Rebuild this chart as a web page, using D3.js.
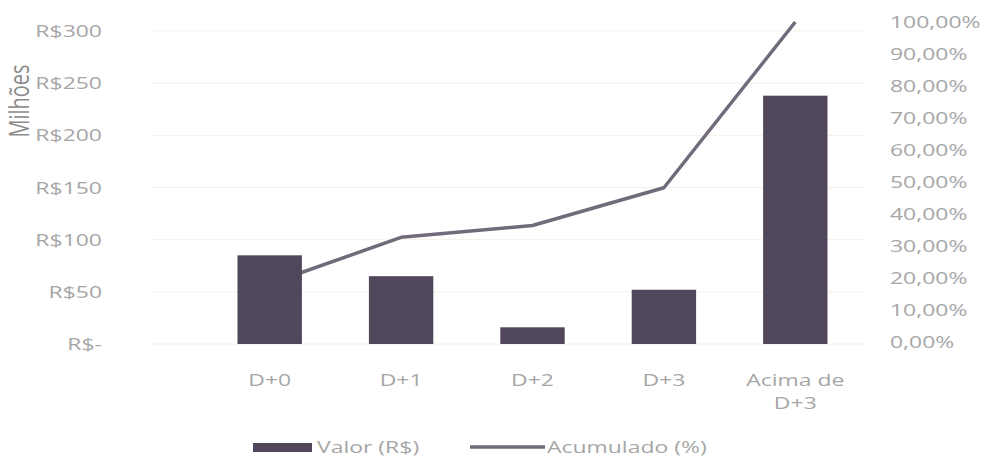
<!DOCTYPE html>
<html>
<head>
  <meta charset="UTF-8">
  <title>Valor por prazo</title>
  <script src="https://cdnjs.cloudflare.com/ajax/libs/d3/7.8.5/d3.min.js"></script>
  <style>
    body { margin: 0; background: #fff; }
    text { font-family: "Open Sans", sans-serif; font-size: 17px; fill: #a6a6a6; }
  </style>
</head>
<body>
<script>
    // Data
    const categories = ["D+0", "D+1", "D+2", "D+3", "Acima de D+3"];
    const valores = [85, 65, 16, 52, 238];            // R$ milhões
    const acumulado = [18.2, 32.7, 36.4, 48.2, 100];  // %
    const leftTicks = [0, 50, 100, 150, 200, 250, 300];
    const rightTicks = [0, 10, 20, 30, 40, 50, 60, 70, 80, 90, 100];

    const W = 981, H = 464;
    const SX = 1.35; // the scanned text is stretched sideways

    const svg = d3.select("body").append("svg")
      .attr("width", W)
      .attr("height", H);

    // put a text at (x,y), stretched horizontally
    function label(g, x, y, str, anchor) {
      return g.append("text")
        .attr("transform", `translate(${x},${y}) scale(${SX},1)`)
        .attr("text-anchor", anchor || "start")
        .text(str);
    }

    // Scales
    const x = d3.scaleBand()
      .domain(categories)
      .range([204, 861])
      .paddingInner(0.51)
      .paddingOuter(0.255);

    const yL = d3.scaleLinear().domain([0, 300]).range([344, 31]);
    const yR = d3.scaleLinear().domain([0, 100]).range([342, 22]);

    // faint gridlines
    svg.append("g")
      .selectAll("line")
      .data(leftTicks)
      .join("line")
      .attr("x1", 150).attr("x2", 866)
      .attr("y1", d => yL(d)).attr("y2", d => yL(d))
      .attr("stroke", "#f3f1e6")
      .attr("stroke-width", 1);

    // Left axis labels
    const fmtL = d => d === 0 ? "R$-" : "R$" + d;
    const gL = svg.append("g");
    leftTicks.forEach(d => label(gL, 102, yL(d) + 6, fmtL(d), "end"));

    // Right axis labels
    const fmtR = d => d3.format(".2f")(d).replace(".", ",") + "%";
    const gR = svg.append("g");
    rightTicks.forEach(d => label(gR, 890, yR(d) + 6, fmtR(d)));

    // axis title
    svg.append("text")
      .attr("transform", "translate(29,101) rotate(-90) scale(1,1.35)")
      .attr("text-anchor", "middle")
      .style("font-size", "20px")
      .style("fill", "#8c8c8c")
      .text("Milhões");

    // Line (drawn under the bars)
    const line = d3.line()
      .x((d, i) => x(categories[i]) + x.bandwidth() / 2)
      .y(d => yR(d));

    svg.append("path")
      .datum(acumulado)
      .attr("d", line)
      .attr("fill", "none")
      .attr("stroke", "#716a7b")
      .attr("stroke-width", 3.5)
      .attr("stroke-linejoin", "round");

    // Bars
    svg.append("g")
      .selectAll("rect")
      .data(valores)
      .join("rect")
      .attr("x", (d, i) => x(categories[i]))
      .attr("y", d => yL(d))
      .attr("width", x.bandwidth())
      .attr("height", d => yL(0) - yL(d))
      .attr("fill", "#50475b");

    // Category labels
    const gX = svg.append("g");
    categories.forEach(c => {
      const cx = x(c) + x.bandwidth() / 2;
      if (c === "Acima de D+3") {
        label(gX, cx, 386, "Acima de", "middle");
        label(gX, cx, 409, "D+3", "middle");
      } else {
        label(gX, cx, 386, c, "middle");
      }
    });

    // Legend
    const lg = svg.append("g");
    lg.append("rect")
      .attr("x", 253).attr("y", 443)
      .attr("width", 59).attr("height", 9)
      .attr("fill", "#50475b");
    label(lg, 317, 453, "Valor (R$)");
    lg.append("line")
      .attr("x1", 470).attr("x2", 545)
      .attr("y1", 447).attr("y2", 447)
      .attr("stroke", "#716a7b")
      .attr("stroke-width", 3.5);
    label(lg, 547, 453, "Acumulado (%)");
</script>
</body>
</html>
